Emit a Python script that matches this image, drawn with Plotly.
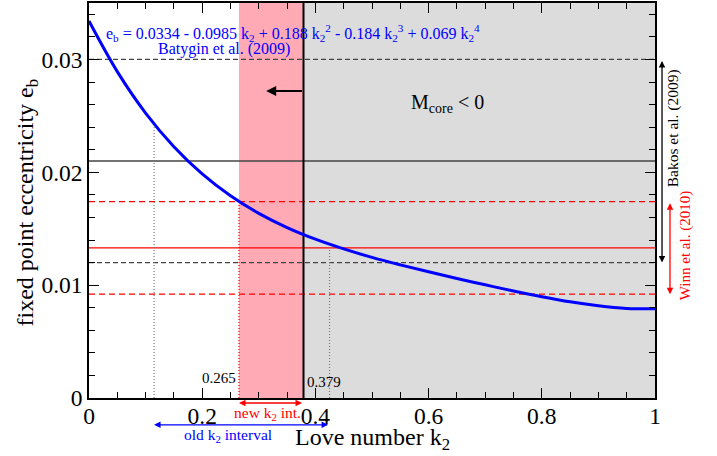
import plotly.graph_objects as go

# ---- data ----
k2 = [0.0, 0.05, 0.1, 0.15, 0.2, 0.25, 0.3, 0.35, 0.4, 0.45, 0.5,
      0.55, 0.6, 0.65, 0.7, 0.75, 0.8, 0.85, 0.9, 0.95, 1.0]
e_b = [0.0334, 0.02892, 0.02525, 0.02227, 0.01986, 0.01792, 0.01636, 0.01510,
       0.01407, 0.01321, 0.01246, 0.01180, 0.01118, 0.01059, 0.01003, 0.00948,
       0.00897, 0.00852, 0.00817, 0.00794, 0.0079]
bakos_e = [0.012, 0.021, 0.030]          # lower, centre, upper
winn_e = [0.0092, 0.0133, 0.0174]        # lower, centre, upper
new_k2 = [0.265, 0.379]
old_k2 = [0.115, 0.425]
old_k2_top = [0.0240, 0.0134]            # top of the dotted markers
new_k2_top = 0.0174
arrow_tip_k2 = 0.313
arrow_e = 0.0272
x_ticks = [0, 0.2, 0.4, 0.6, 0.8, 1]
y_ticks = [0, 0.01, 0.02, 0.03]
y_tick_text = ["0", "0.01", "0.02", "0.03"]

SERIF = "Liberation Serif"
fig = go.Figure()

shapes = []
# shaded regions
shapes.append(dict(type="rect", xref="x", yref="paper", x0=new_k2[1], x1=1, y0=0, y1=1,
                   fillcolor="#dcdcdc", line_width=0, layer="below"))
shapes.append(dict(type="rect", xref="x", yref="paper", x0=new_k2[0], x1=new_k2[1], y0=0, y1=1,
                   fillcolor="#ffaab4", line_width=0, layer="below"))
# Bakos lines
for v, d in zip(bakos_e, ["5px,3px", "solid", "5px,3px"]):
    shapes.append(dict(type="line", xref="paper", yref="y", x0=0, x1=1, y0=v, y1=v,
                       line=dict(color="#444444", width=1.3, dash=d), layer="below"))
# Winn lines
for v, d in zip(winn_e, ["6px,4px", "solid", "6px,4px"]):
    shapes.append(dict(type="line", xref="paper", yref="y", x0=0, x1=1, y0=v, y1=v,
                       line=dict(color="#ff0000", width=1.3, dash=d), layer="below"))
# dotted markers
for kx, top in zip(old_k2, old_k2_top):
    shapes.append(dict(type="line", xref="x", yref="y", x0=kx, x1=kx, y0=0, y1=top,
                       line=dict(color="#777777", width=1.2, dash="1px,2px"), layer="below"))
shapes.append(dict(type="line", xref="x", yref="y", x0=new_k2[0], x1=new_k2[0], y0=0, y1=new_k2_top,
                   line=dict(color="#ff0000", width=1.2, dash="1px,2px"), layer="below"))
# solid vertical boundary
shapes.append(dict(type="line", xref="x", yref="paper", x0=new_k2[1], x1=new_k2[1], y0=0, y1=1,
                   line=dict(color="black", width=2), layer="below"))

fig.add_trace(go.Scatter(x=k2, y=e_b, mode="lines", line=dict(color="#0000ff", width=3, shape="spline"),
                         showlegend=False, hoverinfo="skip"))

ann = []
ann.append(dict(xref="x", yref="y", x=0.026, y=0.0323, xanchor="left", yanchor="middle", showarrow=False,
                text="e<sub>b</sub> = 0.0334 - 0.0985 k<sub>2</sub> + 0.188 k<sub>2</sub><sup>2</sup> - 0.184 k<sub>2</sub><sup>3</sup> + 0.069 k<sub>2</sub><sup>4</sup>",
                font=dict(family=SERIF, size=16, color="#0000ff")))
ann.append(dict(xref="x", yref="y", x=0.239, y=0.0309, xanchor="center", yanchor="middle", showarrow=False,
                text="Batygin et al. (2009)", font=dict(family=SERIF, size=16, color="#0000ff")))
ann.append(dict(xref="x", yref="y", x=0.634, y=0.0261, xanchor="center", yanchor="middle", showarrow=False,
                text="M<sub>core</sub> &lt; 0", font=dict(family=SERIF, size=20, color="black")))
# left arrow
ann.append(dict(xref="x", yref="y", x=arrow_tip_k2, y=arrow_e, axref="x", ayref="y", ax=new_k2[1], ay=arrow_e,
                text="", showarrow=True, arrowhead=2, arrowsize=1, arrowwidth=2, arrowcolor="black"))
# values
ann.append(dict(xref="x", yref="y", x=new_k2[0] - 0.002, y=0.00177, xanchor="right", yanchor="middle",
                showarrow=False, text="0.265", font=dict(family=SERIF, size=15, color="black")))
ann.append(dict(xref="x", yref="y", x=new_k2[1] + 0.002, y=0.00142, xanchor="left", yanchor="middle",
                showarrow=False, text="0.379", font=dict(family=SERIF, size=15, color="black")))
# right-side double arrows
ann.append(dict(xref="paper", yref="y", x=1.0124, y=bakos_e[0], axref="pixel", ayref="y", ax=0, ay=bakos_e[2],
                text="", showarrow=True, arrowhead=2, arrowside="end+start", arrowsize=1, arrowwidth=1.3,
                arrowcolor="black"))
ann.append(dict(xref="paper", yref="y", x=1.0265, y=winn_e[0], axref="pixel", ayref="y", ax=0, ay=winn_e[2],
                text="", showarrow=True, arrowhead=2, arrowside="end+start", arrowsize=1, arrowwidth=1.3,
                arrowcolor="#ff0000"))
ann.append(dict(xref="paper", yref="y", x=1.0318, y=0.0239, xanchor="center", yanchor="middle", showarrow=False,
                textangle=-90, text="Bakos et al. (2009)", font=dict(family=SERIF, size=15.5, color="black")))
ann.append(dict(xref="paper", yref="y", x=1.0530, y=0.01354, xanchor="center", yanchor="middle", showarrow=False,
                textangle=-90, text="Winn et al. (2010)", font=dict(family=SERIF, size=15, color="#ff0000")))
# bottom interval arrows
ann.append(dict(xref="x", yref="paper", x=new_k2[0], y=-0.0127, axref="x", ayref="pixel", ax=new_k2[1], ay=0,
                text="", showarrow=True, arrowhead=2, arrowside="end+start", arrowsize=1, arrowwidth=1.3,
                arrowcolor="#ff0000"))
ann.append(dict(xref="x", yref="paper", x=0.315, y=-0.038, xanchor="center", yanchor="middle", showarrow=False,
                text="new k<sub>2</sub> int.", font=dict(family=SERIF, size=15.5, color="#ff0000")))
ann.append(dict(xref="x", yref="paper", x=old_k2[0], y=-0.068, axref="x", ayref="pixel", ax=old_k2[1], ay=0,
                text="", showarrow=True, arrowhead=2, arrowside="end+start", arrowsize=1, arrowwidth=1.3,
                arrowcolor="#0000ff"))
ann.append(dict(xref="x", yref="paper", x=0.245, y=-0.094, xanchor="center", yanchor="middle", showarrow=False,
                text="old k<sub>2</sub> interval", font=dict(family=SERIF, size=15.5, color="#0000ff")))
# axis titles
ann.append(dict(xref="paper", yref="paper", x=0.5, y=-0.103, xanchor="center", yanchor="middle", showarrow=False,
                text="Love number k<sub>2</sub>", font=dict(family=SERIF, size=24, color="black")))
ann.append(dict(xref="paper", yref="paper", x=-0.1095, y=0.495, xanchor="center", yanchor="middle", showarrow=False,
                textangle=-90, text="fixed point eccentricity e<sub>b</sub>",
                font=dict(family=SERIF, size=24, color="black")))

fig.update_layout(
    width=717, height=456,
    margin=dict(l=89, r=62, t=3, b=58),
    paper_bgcolor="white", plot_bgcolor="white",
    shapes=shapes, annotations=ann,
    font=dict(family=SERIF, color="black"),
    xaxis=dict(range=[0, 1], tickvals=x_ticks, ticktext=[str(t) for t in x_ticks],
               ticks="inside", ticklen=10, tickwidth=1, tickcolor="black",
               minor=dict(dtick=0.05, ticks="inside", ticklen=6, tickcolor="black", showgrid=False),
               showgrid=False, zeroline=False, showline=True, linecolor="black", linewidth=1.5,
               mirror="ticks", tickfont=dict(family=SERIF, size=23.5), automargin=False,
               ticklabelstandoff=-4),
    yaxis=dict(range=[0, 0.035], tickvals=y_ticks, ticktext=y_tick_text,
               ticks="inside", ticklen=10, tickwidth=1, tickcolor="black",
               minor=dict(dtick=0.002, ticks="inside", ticklen=6, tickcolor="black", showgrid=False),
               showgrid=False, zeroline=False, showline=True, linecolor="black", linewidth=1.5,
               mirror="ticks", tickfont=dict(family=SERIF, size=23.5), automargin=False),
)

fig.write_html("out.html", config={"displayModeBar": False},
               post_script="document.body.style.margin='0px';")
